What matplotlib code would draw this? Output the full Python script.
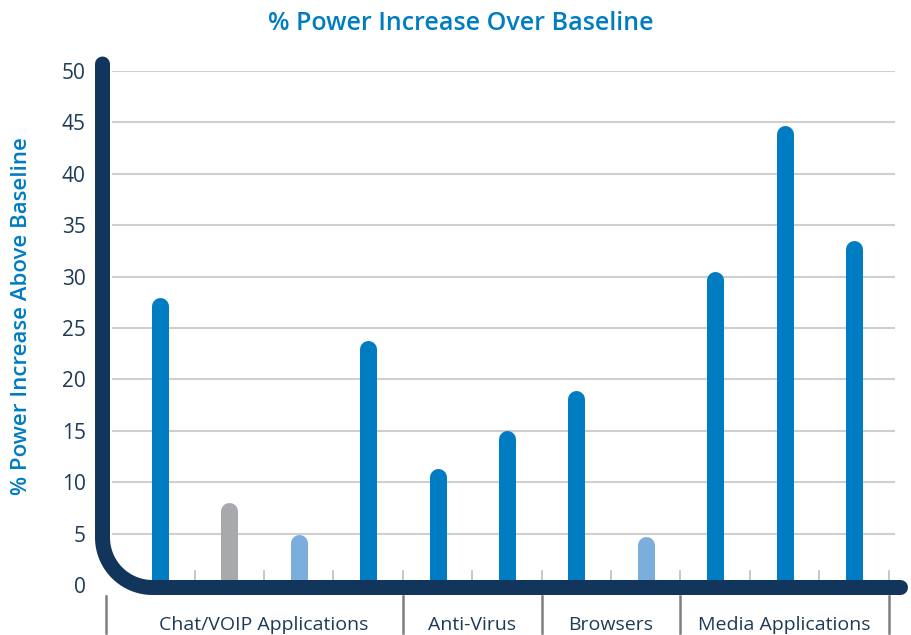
import numpy as np
import matplotlib
matplotlib.use("Agg")
import matplotlib.pyplot as plt
from matplotlib.path import Path
from matplotlib.patches import PathPatch

# Power increase per application, grouped by category
groups = ["Chat/VOIP Applications", "Anti-Virus", "Browsers", "Media Applications"]
group_sizes = [4, 2, 2, 3]
values = [28.0, 8.0, 4.9, 23.8, 11.35, 15.0, 18.9, 4.7, 30.5, 44.65, 33.5]
bar_kind = ["main", "gray", "light", "main", "main", "main", "main", "light", "main", "main", "main"]
y_ticks = [0, 5, 10, 15, 20, 25, 30, 35, 40, 45, 50]

title = "% Power Increase Over Baseline"
y_label = "% Power Increase Above Baseline"

BLUE = "#007CC3"
LIGHT = "#7BAEDD"
GRAY = "#A7A9AC"
NAVY = "#12355B"
GRID = "#CFCFCF"
TEXT = "#1E3A56"
TICK = "#7F7F7F"
colors = {"main": BLUE, "gray": GRAY, "light": LIGHT}

FONT = "Open Sans"
W, H = 912, 635
fig = plt.figure(figsize=(W / 100, H / 100), dpi=100)

# plot area in pixel units
left_px, right_px, top_px, bottom_px = 112, 895, 71, 585
ax = fig.add_axes([left_px / W, 1 - bottom_px / H,
                   (right_px - left_px) / W, (bottom_px - top_px) / H])
slot_px = 69.4
first_px = 160
ax.set_xlim((left_px - first_px) / slot_px, (right_px - first_px) / slot_px)
ax.set_ylim(0, 50)

for s in ax.spines.values():
    s.set_visible(False)
ax.set_xticks([])
ax.set_yticks(y_ticks)
ax.set_yticklabels([str(t) for t in y_ticks], fontsize=15, color=TEXT, family=FONT)
ax.tick_params(axis="y", length=0, pad=19)
for t in y_ticks[1:]:
    ax.axhline(t, color=GRID, lw=1.5, zorder=1)

# bars with rounded tops
bar_w_px = 17
px_per_unit = (bottom_px - top_px) / 50
r_data = (bar_w_px / 2) / px_per_unit
x = np.arange(len(values))
for xi, v, k in zip(x, values, bar_kind):
    ax.plot([xi, xi], [0, v - r_data], color=colors[k], lw=bar_w_px * 0.72,
            solid_capstyle="round", zorder=3)

# overlay in pixel coordinates for the frame, ticks and labels
ov = fig.add_axes([0, 0, 1, 1], zorder=5)
ov.set_xlim(0, W)
ov.set_ylim(H, 0)
ov.axis("off")
ov.patch.set_alpha(0)

# slot boundaries
bounds = first_px - slot_px / 2 + slot_px * np.arange(len(values) + 1)
for b in bounds[1:]:
    ov.plot([b, b], [571, 581], color="#BDBDBD", lw=1.2, zorder=1)

# rounded L-shaped axis frame
ax_x, ax_y, rad = 102.5, 587.5, 50
ang = np.linspace(np.pi, np.pi / 2, 30)
cx, cy = ax_x + rad, ax_y - rad
verts = [(ax_x, 64)] + [(cx + rad * np.cos(a), cy + rad * np.sin(a)) for a in ang] + [(900.5, ax_y)]
path = Path(verts)
ov.add_patch(PathPatch(path, fill=False, edgecolor=NAVY, lw=15 * 0.72,
                       capstyle="round", joinstyle="round", zorder=3))

# group separators and labels
cum = np.concatenate([[0], np.cumsum(group_sizes)])
sep_x = [bounds[c] for c in cum]
sep_x[0] = 106
for sx in sep_x:
    ov.plot([sx, sx], [596, 633], color=TICK, lw=1.8, zorder=2)
for g, a, b in zip(groups, cum[:-1], cum[1:]):
    ov.text((bounds[a] + bounds[b]) / 2, 625, g, ha="center", va="center",
            fontsize=14, color=TEXT, family=FONT)

ov.text(W / 2 + 5, 23, title, ha="center", va="center", fontsize=18,
        fontweight="semibold", color=BLUE, family=FONT)
ov.text(22, 316, y_label, ha="center", va="center", rotation=90, fontsize=16,
        fontweight="semibold", color=BLUE, family=FONT)

fig.savefig("out.png", dpi=100)
